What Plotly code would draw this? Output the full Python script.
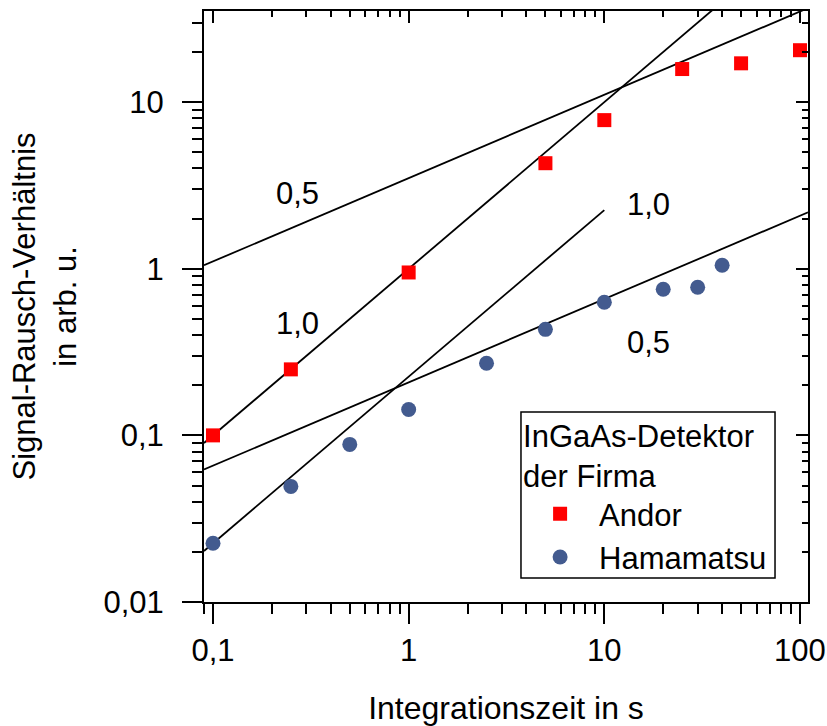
import numpy as np
import plotly.graph_objects as go

# Integration times (s) and measured signal-to-noise ratios (arb. u.)
andor_t = [0.1, 0.25, 1, 5, 10, 25, 50, 100]
andor_snr = [0.100, 0.249, 0.95, 4.3, 7.8, 15.8, 17.1, 20.5]

hama_t = [0.1, 0.25, 0.5, 1, 2.5, 5, 10, 20, 30, 40]
hama_snr = [0.0225, 0.0494, 0.0883, 0.143, 0.271, 0.433, 0.629, 0.753, 0.774, 1.05]

# Power-law guide lines y = a * t^k, drawn between t_start and t_end
guide_a = [3.5, 1.0, 0.225, 0.208]
guide_k = [0.5, 1.0, 1.0, 0.5]
guide_t_end = [110, 110, 10, 110]
guide_label = ["0,5", "1,0", "1,0", "0,5"]

x_tickvals = [0.1, 1, 10, 100]
x_ticktext = ["0,1", "1", "10", "100"]
y_tickvals = [0.01, 0.1, 1, 10]
y_ticktext = ["0,01", "0,1", "1", "10"]

X_RANGE = [-1.046, 2.041]
Y_RANGE = [-2.0, 1.547]
T_START = 10 ** X_RANGE[0]

FONT = "Liberation Sans, Arial, sans-serif"
RED = "#ff0000"
BLUE = "#435b8f"

minor_x = [m * 10.0 ** e for e in range(-2, 3) for m in range(2, 10)]
minor_y = [m * 10.0 ** e for e in range(-3, 2) for m in range(2, 10)]

fig = go.Figure()

for a, k, t_end in zip(guide_a, guide_k, guide_t_end):
    t = np.array([T_START, t_end])
    fig.add_trace(go.Scatter(
        x=t, y=a * t ** k, mode="lines",
        line=dict(color="black", width=1.8),
        showlegend=False, hoverinfo="skip",
    ))

fig.add_trace(go.Scatter(
    x=andor_t, y=andor_snr, mode="markers", name="Andor",
    marker=dict(symbol="square", size=14, color=RED),
))
fig.add_trace(go.Scatter(
    x=hama_t, y=hama_snr, mode="markers", name="Hamamatsu",
    marker=dict(symbol="circle", size=15, color=BLUE),
))

# empty trace so the mirrored top/right axes are drawn
fig.add_trace(go.Scatter(x=[], y=[], xaxis="x2", yaxis="y2", showlegend=False))

# slope labels (positions in log10 units)
label_pos = [(-0.566, 0.4535), (-0.566, -0.327), (1.224, 0.387), (1.224, -0.444)]
for (lx, ly), txt in zip(label_pos, guide_label):
    fig.add_annotation(x=lx, y=ly, xref="x", yref="y", text=txt, showarrow=False,
                       font=dict(family=FONT, size=31, color="black"))

# frame around the legend
fig.add_shape(type="rect", xref="paper", yref="paper",
              x0=0.5248, x1=0.9454, y0=0.0406, y1=0.3215,
              line=dict(color="black", width=1.5), layer="above")

axis_common = dict(
    type="log", showgrid=False, zeroline=False, automargin=False,
    showline=True, linecolor="black", linewidth=2,
    tickcolor="black", tickwidth=2,
)

fig.update_layout(
    width=827, height=726,
    margin=dict(l=204, r=19, t=11, b=124),
    paper_bgcolor="white", plot_bgcolor="white",
    font=dict(family=FONT, size=31, color="black"),
    xaxis=dict(
        **axis_common, range=X_RANGE, ticks="outside", ticklen=20,
        tickmode="array", tickvals=x_tickvals, ticktext=x_ticktext,
        minor=dict(tickmode="array", tickvals=minor_x, ticks="outside",
                   ticklen=10, tickwidth=2, tickcolor="black"),
        title=dict(text="Integrationszeit in s", font=dict(size=32), standoff=34),
        tickfont=dict(size=31),
    ),
    yaxis=dict(
        **axis_common, range=Y_RANGE, ticks="outside", ticklen=20,
        tickmode="array", tickvals=y_tickvals, ticktext=y_ticktext,
        ticklabelstandoff=12,
        minor=dict(tickmode="array", tickvals=minor_y, ticks="outside",
                   ticklen=10, tickwidth=2, tickcolor="black"),
        title=dict(text="Signal-Rausch-Verhältnis<br>in arb. u.", font=dict(size=31), standoff=18),
        tickfont=dict(size=31),
    ),
    xaxis2=dict(
        **axis_common, range=X_RANGE, overlaying="x", side="top", anchor="y",
        ticks="inside", ticklen=12, showticklabels=False,
        tickmode="array", tickvals=x_tickvals,
        minor=dict(tickmode="array", tickvals=minor_x, ticks="inside",
                   ticklen=6, tickwidth=2, tickcolor="black"),
    ),
    yaxis2=dict(
        **axis_common, range=Y_RANGE, overlaying="y", side="right", anchor="x",
        ticks="inside", ticklen=12, showticklabels=False,
        tickmode="array", tickvals=y_tickvals,
        minor=dict(tickmode="array", tickvals=minor_y, ticks="inside",
                   ticklen=6, tickwidth=2, tickcolor="black"),
    ),
    legend=dict(
        x=0.525, y=0.331, xanchor="left", yanchor="top",
        borderwidth=0, bgcolor="rgba(0,0,0,0)",
        font=dict(size=31),
        title=dict(text="InGaAs-Detektor<br>der Firma", font=dict(size=31)),
        itemwidth=68, tracegroupgap=0,
    ),
    showlegend=True,
)

fig.write_html("out.html")
